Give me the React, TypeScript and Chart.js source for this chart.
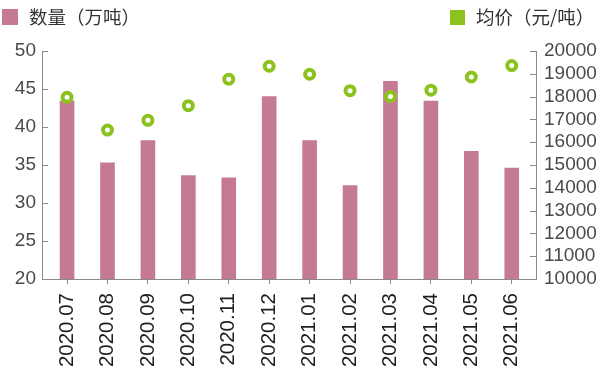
import React, { useEffect, useRef } from "react";
import { Chart, registerables } from "chart.js";

Chart.register(...registerables);

const categories = [
  "2020.07", "2020.08", "2020.09", "2020.10", "2020.11", "2020.12",
  "2021.01", "2021.02", "2021.03", "2021.04", "2021.05", "2021.06",
];
const quantity = [43.4, 35.3, 38.2, 33.6, 33.3, 44.0, 38.2, 32.3, 46.0, 43.4, 36.8, 34.6];
const avgPrice = [17970, 16530, 16960, 17600, 18760, 19330, 18980, 18260, 18000, 18280, 18860, 19360];

const quantityLabel = "数量（万吨）";
const priceLabel = "均价（元/吨）";

const BAR_COLOR = "#c57a94";
const POINT_COLOR = "#8cc21f";
const AXIS_COLOR = "#8a8a8a";

const innerTicks = {
  id: "innerTicks",
  afterDraw(chart: any) {
    const ctx = chart.ctx;
    ctx.save();
    ctx.strokeStyle = AXIS_COLOR;
    ctx.lineWidth = 1;
    const y = chart.scales.y;
    const y1 = chart.scales.y1;
    y.ticks.forEach((_t: any, i: number) => {
      const py = Math.round(y.getPixelForTick(i)) + 0.5;
      ctx.beginPath();
      ctx.moveTo(y.right, py);
      ctx.lineTo(y.right + 6, py);
      ctx.stroke();
    });
    y1.ticks.forEach((_t: any, i: number) => {
      const py = Math.round(y1.getPixelForTick(i)) + 0.5;
      ctx.beginPath();
      ctx.moveTo(y1.left - 6, py);
      ctx.lineTo(y1.left, py);
      ctx.stroke();
    });
    ctx.restore();
  },
};

export default function App() {
  const ref = useRef<HTMLCanvasElement | null>(null);
  useEffect(() => {
    document.body.style.margin = "0";
    const chart = new Chart(ref.current as HTMLCanvasElement, {
      type: "bar",
      data: {
        datasets: [
          {
            type: "line",
            label: priceLabel,
            data: avgPrice.map((v, i) => ({ x: i, y: v })),
            yAxisID: "y1",
            showLine: false,
            pointRadius: 4.5,
            pointBorderWidth: 4,
            pointBackgroundColor: "#ffffff",
            pointBorderColor: POINT_COLOR,
            borderColor: POINT_COLOR,
            order: 0,
          } as any,
          {
            type: "bar",
            label: quantityLabel,
            data: quantity.map((v, i) => ({ x: i, y: v })),
            yAxisID: "y",
            backgroundColor: BAR_COLOR,
            barThickness: 14,
            order: 1,
          },
        ],
      },
      options: {
        animation: false,
        responsive: true,
        maintainAspectRatio: false,
        layout: { padding: { top: 51, left: 0, right: 0, bottom: 0 } },
        plugins: { legend: { display: false }, tooltip: { enabled: false } },
        scales: {
          x: {
            type: "linear",
            min: -0.62,
            max: 11.6,
            offset: false,
            afterBuildTicks(scale: any) {
              scale.ticks = categories.map((_, i) => ({ value: i }));
            },
            grid: { drawOnChartArea: false, drawTicks: true, tickLength: 5, color: AXIS_COLOR, offset: false },
            border: { display: true, color: AXIS_COLOR },
            ticks: {
              autoSkip: false,
              minRotation: 90,
              maxRotation: 90,
              padding: 9,
              color: "#1e1e1e",
              font: { family: "Liberation Sans", size: 20.5 },
              callback: (v: any) => categories[Math.round(Number(v))] ?? "",
            },
            afterFit(scale: any) { scale.height = 96; },
          },
          y: {
            position: "left",
            min: 20,
            max: 50,
            ticks: { stepSize: 5, padding: 6, autoSkip: false, color: "#4a4a4a", font: { family: "Liberation Sans", size: 19 } },
            grid: { drawOnChartArea: false, drawTicks: false },
            border: { display: true, color: AXIS_COLOR },
            afterFit(scale: any) { scale.width = 42; },
          },
          y1: {
            position: "right",
            min: 10000,
            max: 20000,
            ticks: {
              stepSize: 1000,
              padding: 8,
              autoSkip: false,
              color: "#4a4a4a",
              font: { family: "Liberation Sans", size: 19 },
              callback: (v: any) => String(v),
            },
            grid: { drawOnChartArea: false, drawTicks: false },
            border: { display: true, color: AXIS_COLOR },
            afterFit(scale: any) { scale.width = 63; },
          },
        },
      },
      plugins: [innerTicks],
    });
    return () => chart.destroy();
  }, []);

  const legendText: React.CSSProperties = {
    position: "absolute",
    top: 4,
    fontFamily: "'Noto Sans CJK SC', sans-serif",
    fontSize: 18.5,
    lineHeight: "24px",
    color: "#333",
  };

  return (
    <div style={{ position: "relative", width: 599, height: 375 }}>
      <canvas ref={ref} />
      <div style={{ position: "absolute", left: 2, top: 9, width: 16, height: 16, background: BAR_COLOR }} />
      <div style={{ ...legendText, left: 29 }}>{quantityLabel}</div>
      <div style={{ position: "absolute", left: 450, top: 10, width: 15, height: 15, background: POINT_COLOR }} />
      <div style={{ ...legendText, left: 476 }}>{priceLabel}</div>
    </div>
  );
}
